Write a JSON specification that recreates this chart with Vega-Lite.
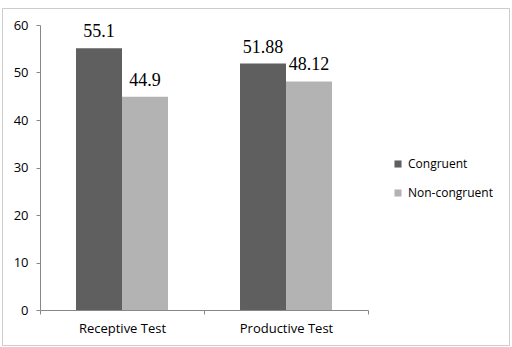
{
  "$schema": "https://vega.github.io/schema/vega-lite/v6.json",
  "autosize": "none",
  "width": 507,
  "height": 337,
  "padding": {"left": 2, "top": 8, "right": 3, "bottom": 2},
  "background": "white",
  "config": {
    "view": {"stroke": "#cccccc", "strokeWidth": 1},
    "font": "Open Sans"
  },
  "data": {
    "values": [
      {"test": "Receptive Test", "condition": "Congruent", "value": 55.1},
      {"test": "Receptive Test", "condition": "Non-congruent", "value": 44.9},
      {"test": "Productive Test", "condition": "Congruent", "value": 51.88},
      {"test": "Productive Test", "condition": "Non-congruent", "value": 48.12}
    ]
  },
  "encoding": {
    "x": {
      "field": "test", "type": "nominal", "sort": ["Receptive Test", "Productive Test"],
      "scale": {"paddingInner": 0, "paddingOuter": 0, "range": [38, 366]},
      "axis": {
        "title": null, "labelAngle": 0, "tickBand": "extent", "domainColor": "#888888",
        "tickColor": "#888888", "tickSize": 4, "labelFontSize": 13, "labelColor": "#000000",
        "labelPadding": 8, "labelFont": "Open Sans", "offset": -35
      }
    },
    "xOffset": {
      "field": "condition", "type": "nominal", "sort": ["Congruent", "Non-congruent"],
      "scale": {"paddingInner": 0, "paddingOuter": 0.783}
    },
    "y": {
      "field": "value", "type": "quantitative",
      "scale": {"domain": [0, 60], "nice": false, "range": [302, 17]},
      "axis": {
        "title": null, "values": [0, 10, 20, 30, 40, 50, 60], "grid": false,
        "domainColor": "#888888", "tickColor": "#888888", "tickSize": 4,
        "labelFontSize": 13, "labelColor": "#000000", "labelPadding": 8,
        "labelFont": "Open Sans", "offset": -38
      }
    }
  },
  "layer": [
    {
      "mark": {"type": "bar"},
      "encoding": {
        "color": {
          "field": "condition", "type": "nominal",
          "scale": {"domain": ["Congruent", "Non-congruent"], "range": ["#5f5f5f", "#b3b3b3"]},
          "legend": {
            "title": null, "orient": "none", "legendX": 390, "legendY": 150,
            "symbolType": "square", "symbolSize": 50, "symbolStrokeWidth": 0,
            "labelFont": "Open Sans",
            "labelFontSize": 12, "labelColor": "#000000", "rowPadding": 17, "labelOffset": 4
          }
        }
      }
    },
    {
      "mark": {"type": "text", "baseline": "alphabetic", "dy": -11, "font": "Liberation Serif", "fontSize": 18, "color": "#000000"},
      "encoding": {
        "text": {"field": "value", "type": "nominal"}
      }
    }
  ]
}
